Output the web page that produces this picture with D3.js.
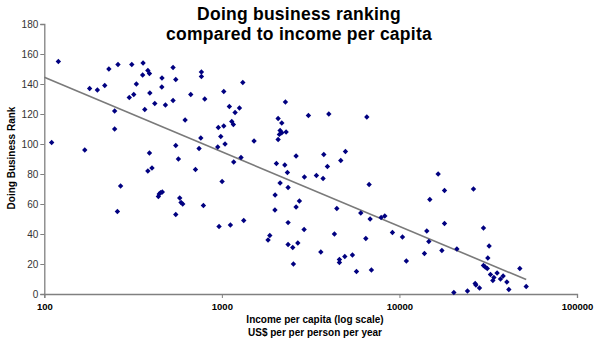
<!DOCTYPE html>
<html><head><meta charset="utf-8">
<script src="https://cdn.jsdelivr.net/npm/d3@7"></script>
<style>html,body{margin:0;padding:0;background:#fff;} svg{display:block;font-family:Arial,"Liberation Sans",sans-serif;}</style>
</head><body><div id="chart"></div>
<script>
const titleLines = ["Doing business ranking", "compared to income per capita"];
const xTitleLines = ["Income per capita (log scale)", "US$ per per person per year"];
const yTitle = "Doing Business Rank";
const xTickValues = [100, 1000, 10000, 100000];
const yTickValues = [0, 20, 40, 60, 80, 100, 120, 140, 160, 180];
const incomes = [120,110,169,180,199,219,231,260,249,249,301,311,319,330,360,358,383,391,368,393,419,460,459,481,531,550,531,391,383,404,550,569,621,668,710,744,761,767,767,801,948,955,986,1025,1025,1042,1102,1137,1161,1187,1166,1256,1282,1312,1518,2028,2074,2074,2175,2128,2175,2108,2300,2280,2262,2339,2618,3072,4002,6550,1003,3750,4965,4673,3930,2916,3407,3715,6750,2128,2360,1995,2733,2618,4440,787,1990,258,269,439,444,452,462,550,579,589,602,964,1117,1328,1820,1862,2360,2360,2507,2529,2677,2905,3608,4305,4592,4592,4924,5436,5728,6058,6466,6838,6953,7890,8270,9134,10400,10940,13830,14260,14640,14830,16520,17340,17940,17940,20250,21060,24160,26120,26700,26950,28240,29740,32000,31460,29740,30430,31240,32570,34040,33580,35480,37070,38370,40270,41310,47640,51750];
const ranks = [155,101,96,137,136,139,150,153,122,110,131,153,133,140,154,146,149,147,123,134,127,144,138,126,151,143,129,94,82,84,99,90,116,133,83,97,104,148,145,130,98,111,105,135,112,100,125,115,113,121,88,124,91,141,102,87,117,103,114,109,107.5,106.4,108,128,86,81,92,119,120,118,75,93,95,89,85,78,79,77,73,74,71,66,62,58,57,59,56,55,72,65,66.7,67.6,68,53,64,61,60,45,46,49,36,39,47.6,33,31,20,34,43,28,40,23,21,25,26,15,54,37,50,16,51,52,41,38,22,27,42,35,63,80,29,69,47,1,30,2,70,7,6,4,44,32,24,19,18,17,13,11,9,14,10,12,8,3,17,5];
const trendIncome = [100, 51750];
const trendRank = [144.5, 9.6];

const W = 600, H = 345;
const svg = d3.select("#chart").append("svg").attr("width", W).attr("height", H);
const x = d3.scaleLog().domain([100, 100000]).range([44.3, 577]);
const y = d3.scaleLinear().domain([0, 180]).range([294, 24]);

// title
svg.append("g").selectAll("text").data(titleLines).join("text")
  .attr("x", 299).attr("y", (d, i) => 20 + i * 19.5)
  .attr("text-anchor", "middle").attr("font-weight", "bold").attr("font-size", 17.5)
  .attr("letter-spacing", 0.25).attr("fill", "#000").text(d => d);

// axes
const axisColor = "#808080";
const yAxis = svg.append("g").attr("transform", "translate(44.3,0)")
  .call(d3.axisLeft(y).tickValues(yTickValues).tickSize(4).tickPadding(2));
yAxis.selectAll("text").attr("font-size", 10).attr("font-family", "Arial, 'Liberation Sans', sans-serif").attr("fill", "#333");
const xAxis = svg.append("g").attr("transform", "translate(0,294)")
  .call(d3.axisBottom(x).tickValues(xTickValues).tickFormat(d3.format("d")).tickSize(4).tickPadding(5));
xAxis.selectAll("text").attr("font-size", 9.5).attr("font-weight", "bold").attr("font-family", "Arial, 'Liberation Sans', sans-serif").attr("fill", "#000");
svg.selectAll(".domain").attr("stroke", axisColor).attr("stroke-width", 1.3);
svg.selectAll(".tick line").attr("stroke", axisColor).attr("stroke-width", 1);

// axis titles
svg.append("g").selectAll("text").data(xTitleLines).join("text")
  .attr("x", 315).attr("y", (d, i) => 323 + i * 13)
  .attr("text-anchor", "middle").attr("font-weight", "bold").attr("font-size", 10)
  .attr("fill", "#000").text(d => d);
svg.append("text").attr("transform", "translate(15,158) rotate(-90)")
  .attr("text-anchor", "middle").attr("font-weight", "bold").attr("font-size", 10)
  .attr("fill", "#000").text(yTitle);

// trend line
const trend = trendIncome.map((v, i) => [v, trendRank[i]]);
svg.append("path").datum(trend)
  .attr("d", d3.line().x(d => x(d[0])).y(d => y(d[1])))
  .attr("stroke", "#7a7a7a").attr("stroke-width", 1.6).attr("fill", "none");

// points
const pts = incomes.map((v, i) => ({inc: v, rank: ranks[i]}));
svg.append("g").selectAll("path").data(pts).join("path")
  .attr("transform", d => `translate(${x(d.inc)},${y(d.rank)})`)
  .attr("d", "M0,-2.7L2.7,0L0,2.7L-2.7,0Z")
  .attr("fill", "#000080");
</script></body></html>
